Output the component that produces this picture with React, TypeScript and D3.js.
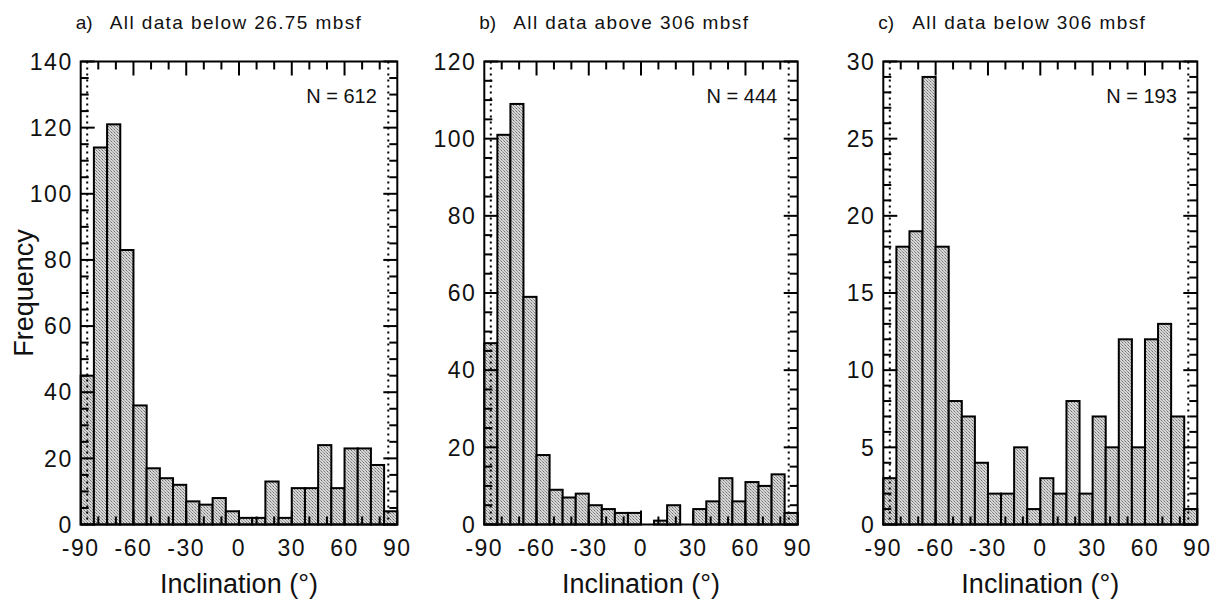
import React from "react";
import * as d3 from "d3";

const binStarts = [-90, -82.5, -75, -67.5, -60, -52.5, -45, -37.5, -30, -22.5, -15, -7.5, 0, 7.5, 15, 22.5, 30, 37.5, 45, 52.5, 60, 67.5, 75, 82.5];
const binWidth = 7.5;

const countsA = [45, 114, 121, 83, 36, 17, 14, 12, 7, 6, 8, 4, 2, 2, 13, 2, 11, 11, 24, 11, 23, 23, 18, 4];
const countsB = [47, 101, 109, 59, 18, 9, 7, 8, 5, 4, 3, 3, 0, 1, 5, 0, 4, 6, 12, 6, 11, 10, 13, 3];
const countsC = [3, 18, 19, 29, 18, 8, 7, 4, 2, 2, 5, 1, 3, 2, 8, 2, 7, 5, 12, 5, 12, 13, 7, 1];

const xTickLabels = [-90, -60, -30, 0, 30, 60, 90];
const yTicksA = [0, 20, 40, 60, 80, 100, 120, 140];
const yTicksB = [0, 20, 40, 60, 80, 100, 120];
const yTicksC = [0, 5, 10, 15, 20, 25, 30];

const panels = [
  { key: "a", letter: "a)", title: "All data below 26.75 mbsf", n: "N = 612", counts: countsA, yMax: 140, yTicks: yTicksA, minorStep: 5, left: 80.7, right: 397.3, showYTitle: true },
  { key: "b", letter: "b)", title: "All data above 306 mbsf", n: "N = 444", counts: countsB, yMax: 120, yTicks: yTicksB, minorStep: 5, left: 484.3, right: 797.7, showYTitle: false },
  { key: "c", letter: "c)", title: "All data below 306 mbsf", n: "N = 193", counts: countsC, yMax: 30, yTicks: yTicksC, minorStep: 1, left: 883.3, right: 1197.3, showYTitle: false },
];

const TOP = 61.5;
const BOTTOM = 524.5;
const FONT = "'Liberation Sans', Arial, sans-serif";

function Panel({ p }: { p: typeof panels[number] }) {
  const x = d3.scaleLinear().domain([-90, 90]).range([p.left, p.right]);
  const y = d3.scaleLinear().domain([0, p.yMax]).range([BOTTOM, TOP]);
  const xMinor = d3.range(-80, 90, 10);
  const yMinor = d3.range(0, p.yMax + 0.001, p.minorStep);
  const majorSet = new Set(p.yTicks);
  const majLen = 14;
  const minLen = 8;
  return (
    <g>
      {p.counts.map((c, i) =>
        c > 0 ? (
          <rect
            key={i}
            x={x(binStarts[i])}
            y={y(c)}
            width={x(binStarts[i] + binWidth) - x(binStarts[i])}
            height={BOTTOM - y(c)}
            fill="url(#dither)"
            stroke="#000"
            strokeWidth={2}
          />
        ) : null
      )}
      <line x1={p.left + 6.5} x2={p.left + 6.5} y1={TOP} y2={BOTTOM} stroke="#000" strokeWidth={2} strokeDasharray="2 4" />
      <line x1={p.right - 9} x2={p.right - 9} y1={TOP} y2={BOTTOM} stroke="#000" strokeWidth={2} strokeDasharray="2 4" />
      {xMinor.map((v) => {
        const len = v % 30 === 0 ? majLen : minLen;
        return (
          <g key={"xt" + v}>
            <line x1={x(v)} x2={x(v)} y1={TOP} y2={TOP + len} stroke="#000" strokeWidth={2} />
            <line x1={x(v)} x2={x(v)} y1={BOTTOM} y2={BOTTOM - len} stroke="#000" strokeWidth={2} />
          </g>
        );
      })}
      {yMinor.map((v) => {
        const len = majorSet.has(v) ? majLen : minLen;
        return (
          <g key={"yt" + v}>
            <line x1={p.left} x2={p.left + len} y1={y(v)} y2={y(v)} stroke="#000" strokeWidth={2} />
            <line x1={p.right} x2={p.right - len} y1={y(v)} y2={y(v)} stroke="#000" strokeWidth={2} />
          </g>
        );
      })}
      <rect x={p.left} y={TOP} width={p.right - p.left} height={BOTTOM - TOP} fill="none" stroke="#000" strokeWidth={2} />
      {p.yTicks.map((v) => (
        <text key={"yl" + v} x={p.left - 8} y={y(v)} dy="0.36em" textAnchor="end" fontSize={23} letterSpacing={1.5} fontFamily={FONT} fill="#111">
          {v}
        </text>
      ))}
      {xTickLabels.map((v) => (
        <text key={"xl" + v} x={x(v)} y={556} textAnchor="middle" fontSize={23} letterSpacing={1.5} fontFamily={FONT} fill="#111">
          {v}
        </text>
      ))}
      <text x={(p.left + p.right) / 2} y={593} textAnchor="middle" fontSize={27} fontFamily={FONT} fill="#111">
        Inclination (°)
      </text>
      <text x={p.left - 5} y={29} fontSize={19} fontFamily={FONT} fill="#111">
        {p.letter}
      </text>
      <text x={p.left + 29} y={29} fontSize={19} letterSpacing={1.4} fontFamily={FONT} fill="#111">
        {p.title}
      </text>
      <text x={p.right - 20.5} y={103} textAnchor="end" fontSize={20} fontFamily={FONT} fill="#111">
        {p.n}
      </text>
      {p.showYTitle ? (
        <text transform={`translate(33, ${(TOP + BOTTOM) / 2}) rotate(-90)`} textAnchor="middle" fontSize={27} fontFamily={FONT} fill="#111">
          Frequency
        </text>
      ) : null}
    </g>
  );
}

export default function App() {
  return (
    <svg width={1218} height={600} style={{ position: "absolute", left: 0, top: 0, display: "block", background: "#fff" }}>
      <defs>
        <pattern id="dither" x={0} y={0} width={3} height={3} patternUnits="userSpaceOnUse">
          <rect x={0} y={0} width={3} height={3} fill="#d6d6d6" shapeRendering="crispEdges" />
          <rect x={0} y={0} width={1} height={1} fill="#707070" shapeRendering="crispEdges" />
          <rect x={1} y={1} width={1} height={1} fill="#a0a0a0" shapeRendering="crispEdges" />
          <rect x={2} y={2} width={1} height={1} fill="#909090" shapeRendering="crispEdges" />
        </pattern>
      </defs>
      <rect x={0} y={0} width={1218} height={600} fill="#fff" />
      {panels.map((p) => (
        <Panel key={p.key} p={p} />
      ))}
    </svg>
  );
}
